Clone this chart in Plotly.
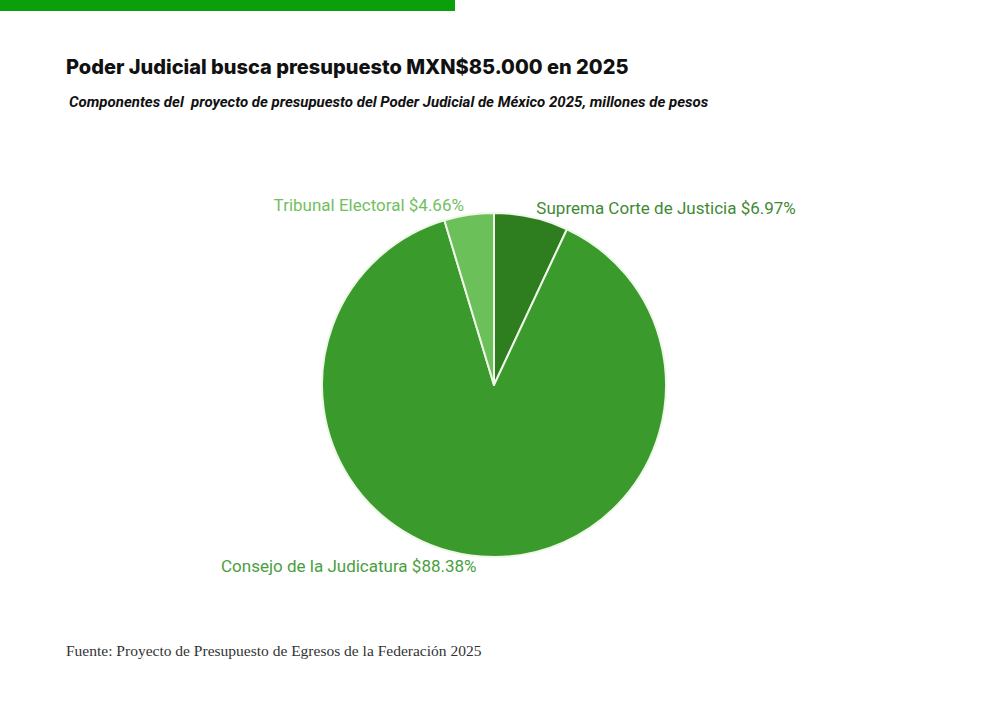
import plotly.graph_objects as go

labels = ["Suprema Corte de Justicia", "Consejo de la Judicatura", "Tribunal Electoral"]
shares = [6.97, 88.38, 4.66]
slice_colors = ["#2e7d1f", "#3a9a2c", "#6cc05a"]
label_colors = ["#3f8a34", "#4a9e3e", "#72bf62"]

title = "Poder Judicial busca presupuesto MXN$85.000 en 2025"
subtitle = "Componentes del  proyecto de presupuesto del Poder Judicial de México 2025, millones de pesos"
source = "Fuente: Proyecto de Presupuesto de Egresos de la Federación 2025"

W, H = 1000, 701

fig = go.Figure()

fig.add_trace(go.Pie(
    labels=labels,
    values=shares,
    sort=False,
    direction="clockwise",
    rotation=0,
    marker=dict(colors=slice_colors, line=dict(color="#eef7e8", width=2)),
    texttemplate="%{label} $%{value:.2f}%",
    textposition="outside",
    outsidetextfont=dict(family="Roboto", size=17, color=label_colors),
    hoverinfo="label+value",
    showlegend=False,
    domain=dict(x=[0.322, 0.666], y=[1 - 557 / H, 1 - 213 / H]),
))

# top green bar
fig.add_shape(type="rect", xref="paper", yref="paper",
              x0=0, x1=0.455, y0=1 - 11 / H, y1=1.0,
              fillcolor="#0c9f0c", line=dict(width=0), layer="above")

fig.add_annotation(text=title, xref="paper", yref="paper",
                   x=64 / W, y=1 - 67 / H, xanchor="left", yanchor="middle",
                   showarrow=False,
                   font=dict(family="Inter", size=20, weight=800, color="#111111"))
fig.add_annotation(text=f"<b><i>{subtitle}</i></b>", xref="paper", yref="paper",
                   x=67 / W, y=1 - 102 / H, xanchor="left", yanchor="middle",
                   showarrow=False, font=dict(family="Roboto", size=15, color="#111111"))
fig.add_annotation(text=source, xref="paper", yref="paper",
                   x=64 / W, y=1 - 650 / H, xanchor="left", yanchor="middle",
                   showarrow=False, font=dict(family="Liberation Serif", size=15.5, color="#333333"))

fig.update_layout(
    width=W, height=H,
    margin=dict(l=0, r=0, t=0, b=0),
    paper_bgcolor="white",
    plot_bgcolor="white",
)

fig.write_html("out.html", config={"displayModeBar": False},
               post_script="document.body.style.margin='0';")
